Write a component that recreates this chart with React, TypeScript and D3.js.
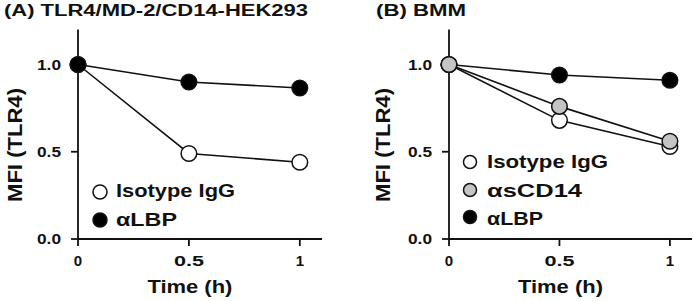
import React from "react";
import * as d3 from "d3";

// time points (h)
const times = [0, 0.5, 1];
const xTicks = [0, 0.5, 1];
const xTickLabels = ["0", "0.5", "1"];
const yTicks = [0, 0.5, 1];
const yTickLabels = ["0.0", "0.5", "1.0"];

// (A) TLR4/MD-2/CD14-HEK293
const isotypeA = [1.0, 0.49, 0.44];
const lbpA = [1.0, 0.9, 0.865];

// (B) BMM
const isotypeB = [1.0, 0.68, 0.53];
const sCD14B = [1.0, 0.76, 0.56];
const lbpB = [1.0, 0.94, 0.91];

const W = 693;
const H = 301;
const INK = "#111";
const FONT = "'Liberation Sans', Arial, sans-serif";

type Series = { name: string; values: number[]; fill: string; width: number };

const Txt = ({ x, y, size, len, anchor = "start", rotate = 0, children }: any) => (
  <text
    x={0}
    y={0}
    transform={`translate(${x},${y}) rotate(${rotate})`}
    fontFamily={FONT}
    fontWeight="bold"
    fontSize={size}
    fill={INK}
    textAnchor={anchor}
    textLength={len}
    lengthAdjust={len ? "spacingAndGlyphs" : undefined}
  >
    {children}
  </text>
);

const Panel = ({ title, titleX, titleLen, x0, x1, yLabelX, series, drawOrder, legend }: any) => {
  const x = d3.scaleLinear().domain([0, 1.1]).range([x0, x1]);
  const y = d3.scaleLinear().domain([0, 1.2]).range([239, 29.6]);
  const line = d3
    .line<number>()
    .x((_, i) => x(times[i]))
    .y((d) => y(d));

  return (
    <g>
      <Txt x={titleX} y={16} size={16} len={titleLen}>
        {title}
      </Txt>

      {/* axes */}
      <line x1={x0} x2={x0} y1={y(1.2)} y2={y(0)} stroke={INK} strokeWidth={1.8} />
      <line x1={x0} x2={x1} y1={y(0)} y2={y(0)} stroke={INK} strokeWidth={1.8} />
      {yTicks.map((t, i) => (
        <g key={"y" + t}>
          <line x1={x0 - 7} x2={x0} y1={y(t)} y2={y(t)} stroke={INK} strokeWidth={1.8} />
          <text
            x={x0 - 17}
            y={y(t) + 5}
            fontFamily={FONT}
            fontWeight="bold"
            fontSize={14}
            fill={INK}
            textAnchor="end"
            textLength={24}
            lengthAdjust="spacingAndGlyphs"
          >
            {yTickLabels[i]}
          </text>
        </g>
      ))}
      {xTicks.map((t, i) => (
        <g key={"x" + t}>
          <line x1={x(t)} x2={x(t)} y1={y(0)} y2={y(0) + 7} stroke={INK} strokeWidth={1.8} />
          <Txt
            x={x(t)}
            y={266}
            size={15}
            anchor="middle"
            len={xTickLabels[i].length > 1 ? 30 : undefined}
          >
            {xTickLabels[i]}
          </Txt>
        </g>
      ))}
      <Txt x={(x(0) + x(1)) / 2 + 1} y={293} size={18} len={85} anchor="middle">
        Time (h)
      </Txt>
      <Txt x={yLabelX} y={145} size={20} len={114} anchor="middle" rotate={-90}>
        MFI (TLR4)
      </Txt>

      {/* lines */}
      {drawOrder.map((k: number) => (
        <path key={"l" + k} d={line(series[k].values) || ""} fill="none" stroke={INK} strokeWidth={1.6} />
      ))}
      {/* markers */}
      {drawOrder.map((k: number) =>
        series[k].values.map((v: number, i: number) => (
          <circle
            key={"c" + k + i}
            cx={x(times[i])}
            cy={y(v)}
            r={7.8}
            fill={series[k].fill}
            stroke={INK}
            strokeWidth={1.5}
          />
        ))
      )}

      {/* legend */}
      {series.map((s: Series, i: number) => (
        <g key={"lg" + i}>
          <circle
            cx={legend.cx}
            cy={legend.cy[i]}
            r={legend.r}
            fill={s.fill}
            stroke={INK}
            strokeWidth={1.5}
          />
          <Txt x={legend.tx} y={legend.ty[i]} size={18} len={s.width}>
            {s.name}
          </Txt>
        </g>
      ))}
    </g>
  );
};

export default function App() {
  const seriesA: Series[] = [
    { name: "Isotype IgG", values: isotypeA, fill: "#ffffff", width: 119 },
    { name: "αLBP", values: lbpA, fill: "#000000", width: 61 },
  ];
  const seriesB: Series[] = [
    { name: "Isotype IgG", values: isotypeB, fill: "#ffffff", width: 121 },
    { name: "αsCD14", values: sCD14B, fill: "#c4c4c4", width: 95 },
    { name: "αLBP", values: lbpB, fill: "#000000", width: 56 },
  ];

  return (
    <svg
      width={W}
      height={H}
      viewBox={`0 0 ${W} ${H}`}
      style={{ position: "absolute", left: 0, top: 0, background: "#fff" }}
    >
      <rect width={W} height={H} fill="#fff" />
      <Panel
        title="(A) TLR4/MD-2/CD14-HEK293"
        titleX={4}
        titleLen={304}
        x0={78}
        x1={322}
        yLabelX={22}
        series={seriesA}
        drawOrder={[0, 1]}
        legend={{ cx: 100, cy: [192, 220], r: 7, tx: 116, ty: [197, 226] }}
      />
      <Panel
        title="(B) BMM"
        titleX={376}
        titleLen={90}
        x0={449}
        x1={692}
        yLabelX={390}
        series={seriesB}
        drawOrder={[2, 0, 1]}
        legend={{ cx: 470, cy: [162, 190, 217], r: 6.5, tx: 487, ty: [168, 197, 225] }}
      />
    </svg>
  );
}
